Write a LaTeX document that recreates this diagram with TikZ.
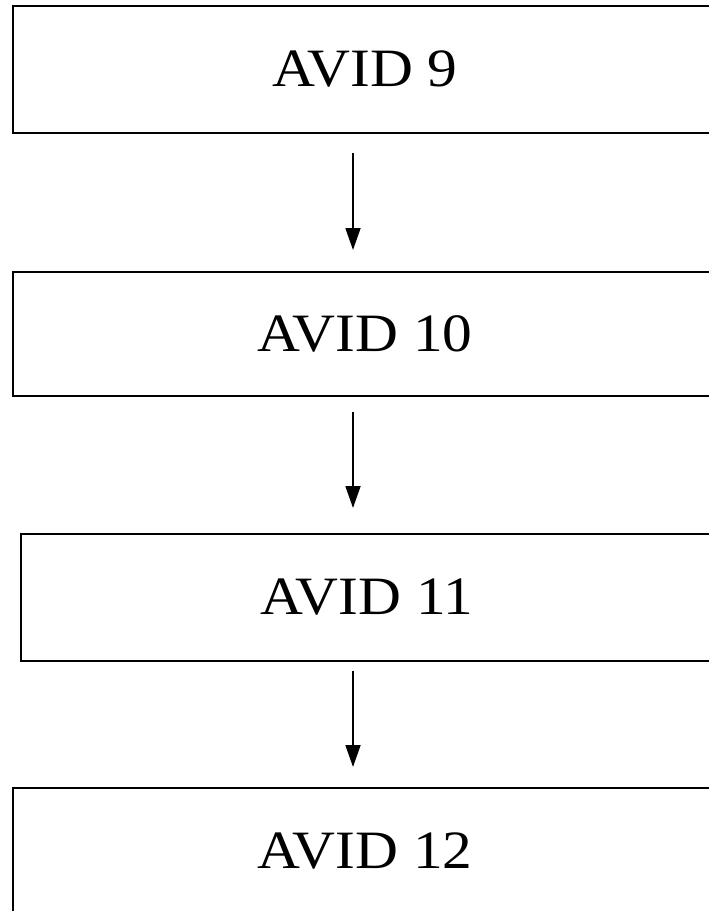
\documentclass[tikz,border=0pt]{standalone}
\usepackage{fontspec}
\setmainfont{Liberation Serif}
\usetikzlibrary{arrows.meta}
\begin{document}
\begin{tikzpicture}[x=1pt,y=1pt,
  box/.style={draw=black, line width=2pt, rectangle, outer sep=0pt, inner sep=0pt,
    minimum height=127pt, font=\fontsize{54}{60}\selectfont},
  flow/.style={line width=1.8pt, -{Triangle[length=22pt,width=15pt]}}]
\clip (0,0) rectangle (709,-911);
\node[box, minimum width=704.6pt] (b1) at (365,-69.5) {\scalebox{1.1}[1]{AVID 9}};
\node[box, minimum width=704.6pt, minimum height=124pt] (b2) at (365,-334) {\scalebox{1.1}[1]{AVID 10}};
\node[box, minimum width=692.6pt] (b3) at (367,-597.5) {\scalebox{1.1}[1]{AVID 11}};
\node[box, minimum width=703.4pt, minimum height=126pt] (b4) at (365,-851) {\scalebox{1.1}[1]{AVID 12}};
\draw[flow] ([xshift=-12pt,yshift=-20pt]b1.south) -- ([xshift=-12pt,yshift=22pt]b2.north);
\draw[flow] ([xshift=-12pt,yshift=-16pt]b2.south) -- ([xshift=-14pt,yshift=26pt]b3.north);
\draw[flow] ([xshift=-14pt,yshift=-10pt]b3.south) -- ([xshift=-12pt,yshift=21pt]b4.north);
\end{tikzpicture}
\end{document}
